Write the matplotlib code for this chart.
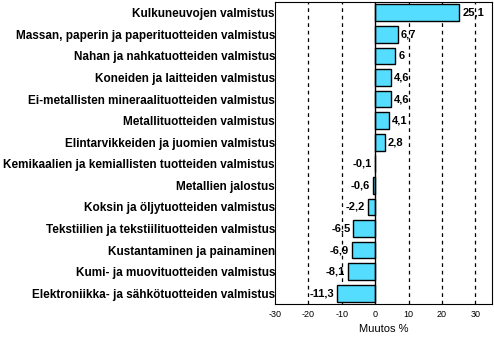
import numpy as np
import matplotlib.pyplot as plt

# toimialat ja muutos %
toimialat = ['Kulkuneuvojen valmistus',
             'Massan, paperin ja paperituotteiden valmistus',
             'Nahan ja nahkatuotteiden valmistus',
             'Koneiden ja laitteiden valmistus',
             'Ei-metallisten mineraalituotteiden valmistus',
             'Metallituotteiden valmistus',
             'Elintarvikkeiden ja juomien valmistus',
             'Kemikaalien ja kemiallisten tuotteiden valmistus',
             'Metallien jalostus',
             'Koksin ja öljytuotteiden valmistus',
             'Tekstiilien ja tekstiilituotteiden valmistus',
             'Kustantaminen ja painaminen',
             'Kumi- ja muovituotteiden valmistus',
             'Elektroniikka- ja sähkötuotteiden valmistus']
muutos = [25.1, 6.7, 6.0, 4.6, 4.6, 4.1, 2.8, -0.1, -0.6, -2.2, -6.5, -6.9, -8.1, -11.3]
arvot_txt = ['25,1', '6,7', '6', '4,6', '4,6', '4,1', '2,8', '-0,1', '-0,6', '-2,2',
             '-6,5', '-6,9', '-8,1', '-11,3']
xticks = [-30, -20, -10, 0, 10, 20, 30]

plt.rcParams['font.family'] = ['Liberation Sans', 'DejaVu Sans']

fig = plt.figure(figsize=(4.94, 3.38), dpi=100)
ax = fig.add_axes([275 / 494, 1 - 304 / 338, (492 - 275) / 494, 302 / 338])

y = np.arange(len(toimialat))
ax.barh(y, muutos, height=0.78, color='#55DDFF', edgecolor='black', linewidth=1, zorder=3)

for yi, v, t in zip(y, muutos, arvot_txt):
    if v >= 0:
        ax.text(v + 1.0, yi, t, va='center', ha='left', fontsize=8, fontweight='bold', zorder=4)
    else:
        ax.text(v - 0.9, yi, t, va='center', ha='right', fontsize=8, fontweight='bold', zorder=4)

for g in [-20, -10, 10, 20, 30]:
    ax.axvline(g, color='black', linestyle=(0, (3, 3)), linewidth=0.9, zorder=1)
ax.axvline(0, color='black', linewidth=1, zorder=4)

ax.set_xlim(-30, 35)
ax.set_ylim(len(toimialat) - 0.5, -0.5)
ax.set_yticks(y)
ax.set_yticklabels(toimialat, fontsize=8.5, fontweight='bold')
ax.set_xticks(xticks)
ax.set_xticklabels([str(t) for t in xticks], fontsize=6.5)
ax.tick_params(axis='y', length=0, pad=0)
ax.tick_params(axis='x', length=0, pad=4)
ax.set_xlabel('Muutos %', fontsize=8, labelpad=4)

fig.savefig('out.png', dpi=100)
